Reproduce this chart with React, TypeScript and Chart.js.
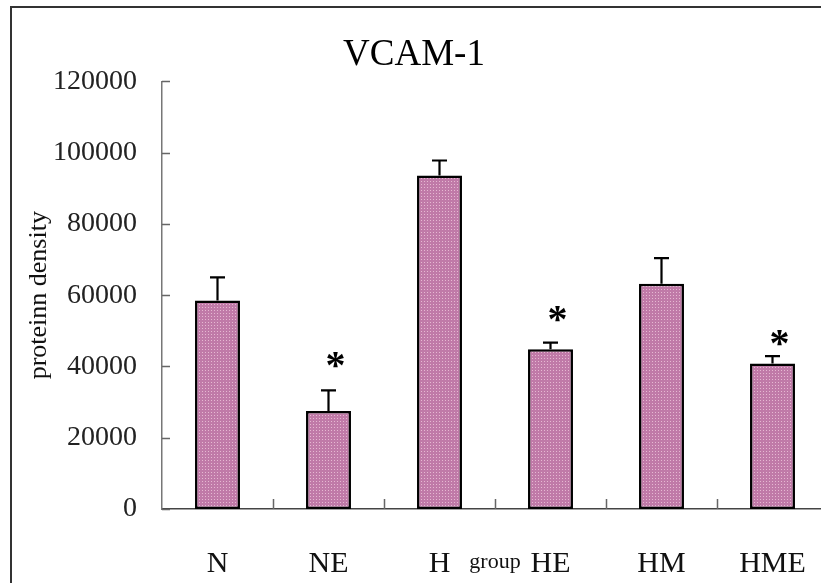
import React, { useEffect, useRef } from "react";
import { Chart, registerables } from "chart.js";

Chart.register(...registerables);

// Protein density per group (mean and upper error)
const groups = ["N", "NE", "H", "HE", "HM", "HME"];
const density = [58500, 27500, 93600, 44800, 63200, 40800];
const sem = [6500, 5800, 4200, 1900, 7200, 2100];
// Height (data units) of the significance asterisk; null = no mark
const starAt: (number | null)[] = [null, 42000, null, 55000, null, 48200];
const yMax = 120000;
const yStep = 20000;

const SERIF = "'Liberation Serif', 'Times New Roman', serif";
const W = 836;
const H = 583;

function dottedFill(): CanvasPattern | string {
  const c = document.createElement("canvas");
  c.width = 3;
  c.height = 3;
  const g = c.getContext("2d");
  if (!g) return "#c07aa8";
  g.fillStyle = "#c07aa8";
  g.fillRect(0, 0, 3, 3);
  g.fillStyle = "#e6b8d2";
  g.fillRect(1, 1, 1, 1);
  return g.createPattern(c, "repeat") || "#c07aa8";
}

// Outer figure frame
const framePlugin = {
  id: "frame",
  afterDraw(chart: any) {
    const { ctx } = chart;
    ctx.save();
    ctx.strokeStyle = "#333";
    ctx.lineWidth = 2;
    ctx.strokeRect(11, 7, chart.width + 20, chart.height + 20);
    ctx.restore();
  },
};

// Inward tick marks on both axes
const innerTicksPlugin = {
  id: "innerTicks",
  afterDraw(chart: any) {
    const { ctx, chartArea, scales } = chart;
    const y = scales.y;
    const x = scales.x;
    ctx.save();
    ctx.strokeStyle = "#666";
    ctx.lineWidth = 1.5;
    ctx.beginPath();
    y.ticks.forEach((t: any) => {
      const py = Math.round(y.getPixelForValue(t.value)) + 0.5;
      ctx.moveTo(chartArea.left, py);
      ctx.lineTo(chartArea.left + 8, py);
    });
    for (let i = 1; i < groups.length; i++) {
      const px =
        (x.getPixelForValue(i - 1) + x.getPixelForValue(i)) / 2;
      ctx.moveTo(Math.round(px) + 0.5, chartArea.bottom);
      ctx.lineTo(Math.round(px) + 0.5, chartArea.bottom - 10);
    }
    ctx.stroke();
    ctx.restore();
  },
};

// Upper error bars and significance asterisks
const errorPlugin = {
  id: "errorBars",
  afterDatasetsDraw(chart: any) {
    const { ctx, scales } = chart;
    const meta = chart.getDatasetMeta(0);
    ctx.save();
    ctx.strokeStyle = "#000";
    ctx.lineWidth = 2.2;
    meta.data.forEach((bar: any, i: number) => {
      const top = scales.y.getPixelForValue(density[i]);
      const cap = scales.y.getPixelForValue(density[i] + sem[i]);
      ctx.beginPath();
      ctx.moveTo(bar.x, top);
      ctx.lineTo(bar.x, cap);
      ctx.moveTo(bar.x - 7.5, cap);
      ctx.lineTo(bar.x + 7.5, cap);
      ctx.stroke();
      const s = starAt[i];
      if (s !== null) {
        const sy = scales.y.getPixelForValue(s);
        ctx.fillStyle = "#000";
        ctx.font = `bold 40px ${SERIF}`;
        ctx.textAlign = "center";
        ctx.textBaseline = "alphabetic";
        ctx.fillText("*", bar.x + 7, sy + 19);
      }
    });
    ctx.restore();
  },
};

export default function App() {
  const ref = useRef<HTMLCanvasElement>(null);

  useEffect(() => {
    if (!ref.current) return;
    const chart = new Chart(ref.current, {
      type: "bar",
      data: {
        labels: groups,
        datasets: [
          {
            data: density,
            backgroundColor: dottedFill(),
            borderColor: "#000",
            borderWidth: 2.5,
            borderSkipped: false,
            categoryPercentage: 1,
            barPercentage: 0.405,
          },
        ],
      },
      options: {
        responsive: false,
        animation: false,
        layout: { padding: { left: 0, right: 8, top: 0, bottom: 0 } },
        plugins: {
          legend: { display: false },
          tooltip: { enabled: false },
          title: {
            display: true,
            text: "VCAM-1",
            color: "#000",
            font: { family: SERIF, size: 37, weight: "normal" },
            padding: { top: 33, bottom: 4 },
          },
        },
        scales: {
          x: {
            type: "category",
            offset: true,
            grid: { display: false },
            border: { display: true, color: "#444", width: 1.5 },
            ticks: {
              color: "#111",
              padding: 29,
              maxRotation: 0,
              autoSkip: false,
              font: { family: SERIF, size: 30 },
            },
            title: {
              display: true,
              text: "group",
              color: "#111",
              font: { family: SERIF, size: 22 },
              padding: { top: 0, bottom: 8 },
            },
            afterFit(scale: any) {
              scale.height = 74;
            },
          },
          y: {
            min: 0,
            max: yMax,
            grid: { display: false, drawTicks: false },
            border: { display: true, color: "#777", width: 1.5 },
            ticks: {
              stepSize: yStep,
              color: "#222",
              padding: 25,
              font: { family: SERIF, size: 28 },
              callback: (v: any) => String(v),
            },
            title: {
              display: true,
              text: "proteinn density",
              color: "#111",
              font: { family: SERIF, size: 26 },
              padding: { top: 24, bottom: 0 },
            },
            afterFit(scale: any) {
              scale.width = 162;
            },
          },
        },
      },
      plugins: [innerTicksPlugin, errorPlugin, framePlugin],
    });
    return () => chart.destroy();
  }, []);

  return (
    <div
      style={{
        position: "fixed",
        left: 0,
        top: 0,
        width: 821,
        height: H,
        overflow: "hidden",
        background: "#fff",
      }}
    >
      <canvas ref={ref} width={W} height={H} style={{ width: W, height: H }} />
    </div>
  );
}
